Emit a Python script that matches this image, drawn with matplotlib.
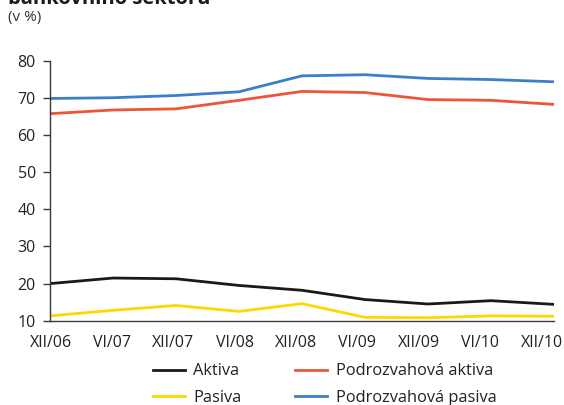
import matplotlib
matplotlib.use("Agg")
import matplotlib.pyplot as plt
import numpy as np

plt.rcParams['font.family'] = ['Open Sans', 'DejaVu Sans']

periods = ["XII/06", "VI/07", "XII/07", "VI/08", "XII/08", "VI/09", "XII/09", "VI/10", "XII/10"]
aktiva = [20.0, 21.5, 21.3, 19.5, 18.2, 15.7, 14.5, 15.4, 14.4]
pasiva = [11.3, 12.8, 14.1, 12.5, 14.6, 10.9, 10.8, 11.3, 11.2]
podroz_aktiva = [65.8, 66.8, 67.1, 69.4, 71.8, 71.5, 69.6, 69.4, 68.3]
podroz_pasiva = [69.9, 70.1, 70.7, 71.7, 76.0, 76.3, 75.3, 75.0, 74.4]
yticks = [10, 20, 30, 40, 50, 60, 70, 80]

fig = plt.figure(figsize=(5.64, 4.05), dpi=100)
ax = fig.add_axes([50/564, 1-320.7/405, 504/564, 259.7/405])

x = np.arange(len(periods))
lw = 2.0
l1, = ax.plot(x, aktiva, color='#1a1a1a', lw=lw, label='Aktiva')
l2, = ax.plot(x, pasiva, color='#ffd700', lw=lw, label='Pasiva')
l3, = ax.plot(x, podroz_aktiva, color='#ec5636', lw=lw, label='Podrozvahová aktiva')
l4, = ax.plot(x, podroz_pasiva, color='#3b7fc9', lw=lw, label='Podrozvahová pasiva')

ax.set_xlim(0, len(periods)-1)
ax.set_ylim(10, 80)
ax.set_yticks(yticks)
# category labels in the reference are spaced slightly tighter than the data points
ax.set_xticks(x * 0.974 + 0.01)
ax.set_xticklabels(periods)
for s in ['top', 'right']:
    ax.spines[s].set_visible(False)
for s in ['left', 'bottom']:
    ax.spines[s].set_color('#3a3a3a')
    ax.spines[s].set_linewidth(1.0)
ax.tick_params(axis='y', length=5.2, width=1.0, color='#3a3a3a', labelsize=11.5,
               labelcolor='#222222', pad=5)
ax.tick_params(axis='x', length=0, labelsize=11.5, labelcolor='#222222', pad=10)

leg = fig.legend([l1, l2, l3, l4], ['Aktiva', 'Pasiva', 'Podrozvahová aktiva', 'Podrozvahová pasiva'],
                 ncol=2, loc='center left', bbox_to_anchor=(153/564, 1-384.5/405),
                 frameon=False, fontsize=11.8, handlelength=1.95, handletextpad=0.5,
                 columnspacing=3.3, labelspacing=0.62, borderpad=0, borderaxespad=0,
                 labelcolor='#222222')

fig.text(8/564, 1-4/405, 'bankovního sektoru', fontsize=14.5, fontweight='bold',
         color='#1a1a1a', ha='left', va='baseline')
fig.text(8/564, 1-18/405, '(v %)', fontsize=11, color='#333333', ha='left', va='center')

fig.savefig('out.png', dpi=100)
